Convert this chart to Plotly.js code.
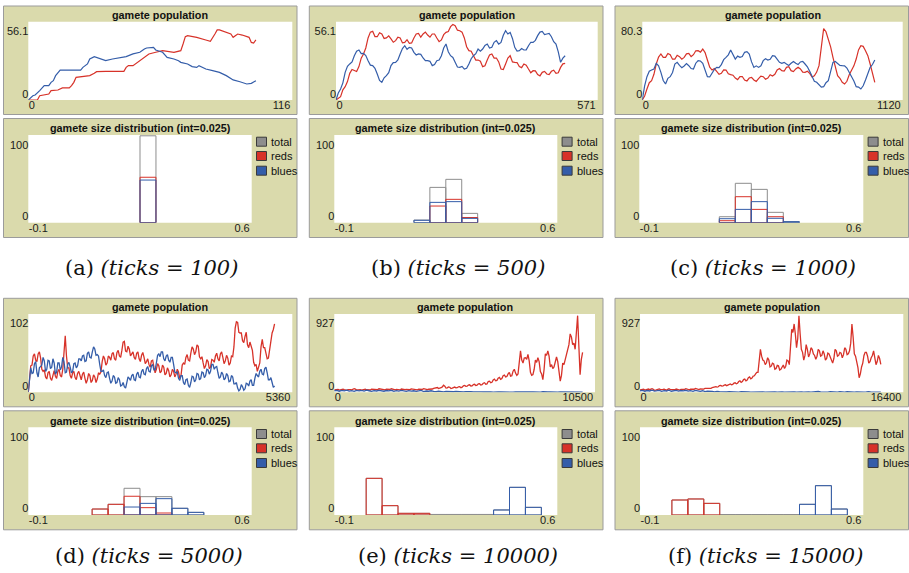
<!DOCTYPE html>
<html><head><meta charset="utf-8">
<script src="https://cdn.plot.ly/plotly-3.0.1.min.js"></script>
<style>html,body{margin:0;padding:0;background:#fff;}#chart{width:909px;height:573px;}</style>
</head><body><div id="chart"></div>
<script>
// ================= DATA =================
const panelLetters = ['a','b','c','d','e','f'];
const panelTicks = [100, 500, 1000, 5000, 10000, 15000];
const popTitle = 'gamete population';
const histTitle = 'gamete size distribution (int=0.025)';
const popXMax = [116, 571, 1120, 5360, 10500, 16400];
const popYMax = [56.1, 56.1, 80.3, 102, 927, 927];
const histXLabels = ['-0.1', '0.6'];
const histYLabels = ['0', '100'];
const histRange = [-0.1, 0.6];
const seriesNames = ['total', 'reds', 'blues'];

// (a) ticks = 100
const aRedTicks = [0,4,5,7,9,10,13,15,18,19,20,21,23,27,29,30,34,38,40,42,43,44,46,49,51,53,56,59,64,67,68,69,70,74,78,80,82,83,84,86,89,90,92,94,97,98,99,100];
const aRed = [0,0,3.4,4.0,4.7,7.4,7.9,9.5,9.5,11.3,13.9,17.9,18.4,19.2,21.0,22.3,22.6,22.6,23.1,22.6,25.7,27.1,27.1,31.0,33.6,36.3,37.6,38.9,37.6,38.9,44.1,49.9,50.7,49.4,47.3,46.2,52.0,55.2,55.2,54.1,52.0,49.4,52.0,51.2,49.4,45.4,44.9,47.3];
const aBlueTicks = [0,2,3,4,5,7,9,10,11,12,14,23,24,26,27,29,31,34,37,40,43,46,48,49,51,52,55,56,59,61,64,66,67,70,72,74,75,78,81,84,87,89,90,93,96,98,100];
const aBlue = [0,3.4,3.9,6.0,7.4,11.3,11.3,13.9,15.2,19.2,23.6,23.6,25.7,28.4,32.3,34.2,33.1,31.0,32.3,33.1,34.2,36.3,36.8,37.6,40.2,41.0,41.5,39.4,37.6,33.6,32.3,31.0,29.7,28.4,26.3,25.7,27.1,24.4,23.1,21.8,19.2,16.5,15.8,14.4,12.6,13.1,15.2];

// (b) ticks = 500
const bTicks = [0,5,10,15,20,25,30,35,40,45,50,55,60,65,70,75,80,85,90,95,
  100,105,110,115,120,125,130,135,140,145,150,155,160,165,170,175,180,185,190,195,
  200,205,210,215,220,225,230,235,240,245,250,255,260,265,270,275,280,285,290,295,
  300,305,310,315,320,325,330,335,340,345,350,355,360,365,370,375,380,385,390,395,
  400,405,410,415,420,425,430,435,440,445,450,455,460,465,470,475,480,485,490,495,500];
const bRed = [0,1.0,2.6,8.0,10.5,14.5,21.0,24.0,23.1,22.5,26.3,33.0,36.3,41.0,48.9,53.5,54.1,50.0,49.9,53.0,
  52.0,48.5,48.9,50.5,48.1,45.5,46.8,49.5,48.9,45.0,45.4,47.5,44.7,45.0,48.9,52.0,52.5,49.5,52.0,53.5,
  51.2,49.5,52.0,52.0,48.9,46.0,47.3,51.5,53.3,54.0,57.8,59.5,58.6,55.0,54.6,53.5,48.9,42.0,38.9,38.5,
  34.9,31.5,31.5,30.5,26.3,27.0,31.5,35.5,36.3,33.0,33.1,30.0,24.4,24.0,28.4,33.0,34.9,30.0,29.7,29.5,
  26.3,25.5,28.4,27.5,24.4,21.5,23.1,23.0,20.0,19.0,21.8,22.5,20.5,20.0,22.6,23.5,21.0,21.5,25.7,28.5,28.9];
const bBlue = [0,5.5,8.7,13.5,21.8,26.5,28.4,30.0,34.9,38.5,39.4,36.5,36.8,35.0,31.0,27.5,27.1,25.0,20.5,15.5,
  13.9,17.5,19.2,21.5,27.1,29.5,29.7,31.5,36.3,40.5,42.8,40.0,41.5,41.0,37.6,35.5,36.3,36.0,33.1,31.0,
  31.0,30.5,27.1,28.0,31.0,31.5,34.9,41.0,44.1,38.0,34.9,33.5,29.7,26.0,25.7,26.5,24.4,25.0,28.4,32.5,
  34.9,36.5,40.2,38.5,40.2,43.0,44.1,41.0,41.5,45.5,46.8,44.0,45.4,51.0,54.6,52.0,53.3,48.5,41.5,38.5,
  38.9,40.5,39.4,39.5,42.8,45.5,45.4,47.0,50.7,53.5,54.1,51.5,52.0,52.5,49.9,46.0,44.1,38.0,29.7,33.0,34.9];

// (c) ticks = 1000
const cTicks = [0,10,20,30,40,50,60,70,80,90,100,110,120,130,140,150,160,170,180,190,
  200,210,220,230,240,250,260,270,280,290,300,310,320,330,340,350,360,370,380,390,
  400,410,420,430,440,450,460,470,480,490,500,510,520,530,540,550,560,570,580,590,
  600,610,620,630,640,650,660,670,680,690,700,710,720,730,740,750,760,770,780,790,
  800,810,820,830,840,850,860,870,880,890,900,910,920,930,940,950,960,970,980,990,1000];
const cRed = [0,4.5,12.4,19.5,21.8,29.0,40.6,48.5,51.9,48.0,48.1,52.5,51.1,46.0,46.2,50.5,48.9,46.0,48.1,52.0,
  52.6,49.0,51.1,55.5,55.6,54.0,57.5,53.5,45.1,37.0,33.8,35.5,32.3,29.0,30.1,34.0,33.8,29.5,28.6,28.0,
  24.8,23.0,26.3,26.5,22.6,21.5,24.8,25.5,22.6,21.0,24.1,27.0,26.3,23.5,24.8,28.5,27.1,29.0,33.8,35.5,
  33.1,32.5,36.8,37.5,33.1,32.0,35.0,37.0,35.0,31.5,31.2,32.5,30.1,26.0,27.4,31.5,38.7,62.0,80.5,77.0,
  68.8,60.0,48.1,36.0,27.4,24.5,19.9,18.0,21.1,28.5,33.1,38.5,46.2,56.5,61.3,60.5,55.6,50.0,40.6,28.5,19.9];
const cBlue = [0,16.0,26.3,32.5,33.8,35.0,41.4,38.5,31.2,22.0,18.0,24.5,26.3,31.0,40.6,42.5,39.1,36.5,38.4,41.0,
  38.7,35.5,35.0,41.5,44.4,44.0,41.4,32.5,26.3,26.0,30.1,34.5,36.8,36.5,39.9,45.5,48.1,51.0,56.4,50.5,
  46.2,49.5,48.1,49.0,53.8,54.5,51.9,43.0,36.8,38.5,36.8,38.5,44.4,46.5,45.1,46.0,50.0,49.5,45.9,42.5,
  41.4,42.5,40.6,39.0,41.4,43.5,41.4,40.0,42.9,43.5,40.6,37.5,32.3,27.5,21.1,20.0,17.3,14.5,15.0,19.5,
  21.8,33.0,42.5,43.5,41.4,39.0,38.7,38.5,36.1,31.0,27.4,21.5,15.0,14.5,12.4,16.0,22.6,29.5,36.8,40.0,45.1];

// (d) ticks = 5000
const dTicks = [0,25,50,75,100,125,150,175,200,225,250,275,300,325,350,375,400,425,450,475,
  500,525,550,575,600,625,650,675,700,725,750,775,800,825,850,875,900,925,950,975,
  1000,1025,1050,1075,1100,1125,1150,1175,1200,1225,1250,1275,1300,1325,1350,1375,1400,1425,1450,1475,
  1500,1525,1550,1575,1600,1625,1650,1675,1700,1725,1750,1775,1800,1825,1850,1875,1900,1925,1950,1975,
  2000,2025,2050,2075,2100,2125,2150,2175,2200,2225,2250,2275,2300,2325,2350,2375,2400,2425,2450,2475,
  2500,2525,2550,2575,2600,2625,2650,2675,2700,2725,2750,2775,2800,2825,2850,2875,2900,2925,2950,2975,
  3000,3025,3050,3075,3100,3125,3150,3175,3200,3225,3250,3275,3300,3325,3350,3375,3400,3425,3450,3475,
  3500,3525,3550,3575,3600,3625,3650,3675,3700,3725,3750,3775,3800,3825,3850,3875,3900,3925,3950,3975,
  4000,4025,4050,4075,4100,4125,4150,4175,4200,4225,4250,4275,4300,4325,4350,4375,4400,4425,4450,4475,
  4500,4525,4550,4575,4600,4625,4650,4675,4700,4725,4750,4775,4800,4825,4850,4875,4900,4925,4950,4975,5000];
const dRed = [0,25,38,39,52,55,46,44,55,58,49,33,30,32,22,19,28,30,20,17,
  27,31,23,20,30,33,24,22,33,63,81,52,35,35,24,20,28,30,21,18,
  27,30,22,18,26,29,20,13,18,27,24,14,17,25,22,14,19,28,26,29,
  44,52,48,39,42,52,50,46,55,57,48,46,57,60,52,50,60,72,73,59,
  58,66,62,52,55,58,50,47,56,58,48,44,53,57,50,41,44,48,40,36,
  45,46,36,28,33,41,38,28,30,39,36,25,27,35,31,22,25,33,30,22,
  26,33,29,20,24,39,42,40,50,54,46,45,56,65,62,54,58,68,66,51,
  48,51,42,34,38,47,44,34,36,47,46,43,52,56,48,45,55,58,50,41,
  45,53,49,39,42,52,51,65,92,101,100,86,85,85,74,71,80,86,68,64,
  72,66,60,43,38,40,30,36,42,65,76,64,64,56,48,49,62,79,85,90,98];
const dBlue = [0,22,35,27,28,41,44,28,22,35,38,39,50,45,30,33,46,45,34,36,
  48,42,26,29,42,42,32,36,50,44,28,29,40,43,36,28,30,41,42,35,
  38,48,48,45,52,53,44,45,56,58,50,49,58,65,62,53,54,52,40,30,
  30,32,24,21,28,29,20,13,16,24,22,13,14,21,18,9,10,14,8,6,
  14,22,20,17,24,26,18,17,26,29,22,21,30,33,26,25,34,37,30,29,
  38,40,32,32,42,53,55,51,58,58,48,45,52,54,46,43,50,50,40,29,
  28,29,20,17,24,24,14,11,18,19,10,7,14,23,22,15,18,27,26,18,
  20,29,28,21,24,33,32,26,30,40,40,33,36,37,28,20,22,29,26,18,
  20,27,24,15,16,24,22,12,12,14,6,2,4,11,8,3,5,13,12,9,
  16,18,10,10,20,27,24,22,30,33,26,25,34,36,28,18,18,21,14,7,9];

// (e) ticks = 10000
const eRedTicks = [0,50,100,150,200,250,300,350,400,450,500,550,600,650,700,750,800,850,900,950,
  1000,1050,1100,1150,1200,1250,1300,1350,1400,1450,1500,1550,1600,1650,1700,1750,1800,1850,1900,1950,
  2000,2050,2100,2150,2200,2250,2300,2350,2400,2450,2500,2550,2600,2650,2700,2750,2800,2850,2900,2950,
  3000,3050,3100,3150,3200,3250,3300,3350,3400,3450,3500,3550,3600,3650,3700,3750,3800,3850,3900,3950,
  4000,4050,4100,4150,4200,4250,4300,4350,4400,4450,4500,4550,4600,4650,4700,4750,4800,4850,4900,4950,
  5000,5050,5100,5150,5200,5250,5300,5350,5400,5450,5500,5550,5600,5650,5700,5750,5800,5850,5900,5950,
  6000,6050,6100,6150,6200,6250,6300,6350,6400,6450,6500,6550,6600,6650,6700,6750,6800,6850,6900,6950,
  7000,7050,7100,7150,7200,7250,7300,7350,7400,7450,7500,7550,7600,7650,7700,7750,7800,7850,7900,7950,
  8000,8050,8100,8150,8200,8250,8300,8350,8400,8450,8500,8550,8600,8650,8700,8750,8800,8850,8900,8950,
  9000,9050,9100,9150,9200,9250,9300,9350,9400,9450,9500,9550,9600,9650,9700,9750,9800,9850,9900,9950,10000];
const eRed = [30,35,42,38,28,33,45,41,34,31,26,36,40,35,32,37,48,41,30,32,
  38,34,27,31,44,40,33,31,25,30,41,40,36,34,29,35,46,42,35,33,
  28,31,40,39,34,38,46,40,30,32,38,34,25,31,43,40,33,34,39,36,
  30,35,45,42,36,34,28,32,42,40,34,38,48,42,31,34,40,40,37,43,
  52,56,66,62,48,52,60,70,92,80,55,58,70,66,50,54,64,68,58,60,
  72,74,60,66,85,90,78,80,95,98,82,84,100,104,88,92,110,112,96,100,
  118,125,105,110,140,145,125,130,160,172,150,155,185,195,170,180,215,225,200,205,
  240,260,210,215,275,300,250,220,240,420,540,420,380,445,450,430,495,410,260,220,
  230,300,420,390,450,400,270,240,165,300,500,480,540,470,330,360,310,330,420,460,
  400,300,145,220,380,360,420,500,540,620,760,720,620,640,560,840,998,600,230,430,520];
const eBlueTicks = [0,100,200,300,400,500,600,700,800,900,1000,1100,1200,1300,1400,1500,1600,1700,1800,1900,2000,2100,2200,2300,2400,2500,2600,2700,2800,2900,3000,3100,3200,3300,3400,3500,3600,3700,3800,3900,4000,4100,4200,4300,4400,4500,4600,4700,4800,4900,5000,5100,5200,5300,5400,5500,5600,5700,5800,5900,6000,6100,6200,6300,6400,6500,6600,6700,6800,6900,7000,7100,7200,7300,7400,7500,7600,7700,7800,7900,8000,8100,8200,8300,8400,8500,8600,8700,8800,8900,9000,9100,9200,9300,9400,9500,9600,9700,9800,9900,10000];
const eBlue = [20,26,14,24,18,28,16,22,12,25, 18,24,15,27,20,13,22,17,26,19, 14,23,18,26,12,21,16,24,19,13, 22,15,20,12,18,24,10,17,14,20, 12,8,15,10,6,12,9,14,7,11, 6,10,5,9,4,8,6,3,7,5, 4,8,3,6,2,7,4,5,3,6, 3,5,2,6,4,8,3,5,2,4, 5,2,6,3,7,2,4,6,3,5, 2,4,3,6,2,5,3,4,2,3, 3];

// (f) ticks = 15000
const fRedTicks = [0,75,150,225,300,375,450,525,600,675,750,825,900,975,1050,1125,1200,1275,1350,1425,
  1500,1575,1650,1725,1800,1875,1950,2025,2100,2175,2250,2325,2400,2475,2550,2625,2700,2775,2850,2925,
  3000,3075,3150,3225,3300,3375,3450,3525,3600,3675,3750,3825,3900,3975,4050,4125,4200,4275,4350,4425,
  4500,4575,4650,4725,4800,4875,4950,5025,5100,5175,5250,5325,5400,5475,5550,5625,5700,5775,5850,5925,
  6000,6075,6150,6225,6300,6375,6450,6525,6600,6675,6750,6825,6900,6975,7050,7125,7200,7275,7350,7425,
  7500,7575,7650,7725,7800,7875,7950,8025,8100,8175,8250,8325,8400,8475,8550,8625,8700,8775,8850,8925,
  9000,9075,9150,9225,9300,9375,9450,9525,9600,9675,9750,9825,9900,9975,10050,10125,10200,10275,10350,10425,
  10500,10575,10650,10725,10800,10875,10950,11025,11100,11175,11250,11325,11400,11475,11550,11625,11700,11775,11850,11925,
  12000,12075,12150,12225,12300,12375,12450,12525,12600,12675,12750,12825,12900,12975,13050,13125,13200,13275,13350,13425,
  13500,13575,13650,13725,13800,13875,13950,14025,14100,14175,14250,14325,14400,14475,14550,14625,14700,14775,14850,14925,15000];
const fRed = [30,35,44,39,28,31,40,42,34,38,48,40,26,29,38,44,45,36,32,38,
  40,31,28,40,46,38,35,36,30,33,42,37,25,29,38,39,33,37,47,40,
  29,32,41,42,36,40,50,44,31,35,44,45,38,42,52,51,58,57,49,52,
  62,66,75,74,68,72,88,90,80,82,95,98,86,90,104,108,98,102,120,124,
  112,118,140,150,130,140,165,172,150,160,190,200,175,185,210,215,240,260,260,380,
  560,470,420,410,360,385,450,420,330,340,380,370,300,310,350,345,290,300,340,355,
  310,340,420,410,360,560,820,780,890,760,580,700,998,760,560,520,420,480,620,560,
  460,500,580,560,500,480,430,470,560,540,470,480,540,500,420,440,510,500,450,430,
  380,440,560,540,470,480,520,510,450,490,580,560,490,500,540,640,890,720,500,470,
  400,320,190,240,330,380,480,520,520,470,380,400,450,480,540,470,360,400,480,440,363];
const fBlueTicks = [0,150,300,450,600,750,900,1050,1200,1350,1500,1650,1800,1950,2100,2250,2400,2550,2700,2850,3000,3150,3300,3450,3600,3750,3900,4050,4200,4350,4500,4650,4800,4950,5100,5250,5400,5550,5700,5850,6000,6150,6300,6450,6600,6750,6900,7050,7200,7350,7500,7650,7800,7950,8100,8250,8400,8550,8700,8850,9000,9150,9300,9450,9600,9750,9900,10050,10200,10350,10500,10650,10800,10950,11100,11250,11400,11550,11700,11850,12000,12150,12300,12450,12600,12750,12900,13050,13200,13350,13500,13650,13800,13950,14100,14250,14400,14550,14700,14850,15000];
const fBlue = [18,25,14,23,17,27,15,21,26,13, 22,17,28,14,20,25,16,23,18,26, 15,21,13,24,18,12,20,9,14,8, 11,6,13,8,5,10,4,9,6,3, 7,3,8,4,2,6,3,5,2,4, 3,6,2,5,8,3,6,2,7,4, 2,5,9,3,6,2,8,4,3,6, 4,2,7,3,10,4,2,6,3,8, 3,6,2,9,4,2,7,3,5,2, 6,3,8,2,5,9,3,4,2,3, 2];

// histogram bins (centres, width 0.05) and counts
const histBins = [-0.075,-0.025,0.025,0.075,0.125,0.175,0.225,0.275,0.325,0.375,0.425,0.475,0.525,0.575];
const n = null;
const aTotal = [n,n,n,n,n,n,n,109,n,n,n,n,n,n];
const aReds  = [n,n,n,n,n,n,n,57,n,n,n,n,n,n];
const aBlues = [n,n,n,n,n,n,n,53.5,n,n,n,n,n,n];
const bTotal = [n,n,n,n,n,3.3,44.3,54.4,11.7,n,n,n,n,n];
const bReds  = [n,n,n,n,n,n,20.9,29.3,6.5,n,n,n,n,n];
const bBlues = [n,n,n,n,n,3.0,25.5,26.4,5.4,n,n,n,n,n];
const cTotal = [n,n,n,n,n,7.5,49.4,41.8,13.0,1.3,n,n,n,n];
const cReds  = [n,n,n,n,n,2.5,32.6,16.7,7.5,n,n,n,n,n];
const cBlues = [n,n,n,n,n,5.0,16.7,26.4,5.5,1.3,n,n,n,n];
const dTotal = [n,n,n,n,7.5,13.4,33.5,23.0,23.0,8.4,3.3,n,n,n];
const dReds  = [n,n,n,n,7.5,13.4,23.5,9.2,2.5,n,n,n,n,n];
const dBlues = [n,n,n,n,n,n,10.0,14.6,20.5,8.4,3.3,n,n,n];
const eTotal = [n,n,46.0,11.7,2.1,2.1,0.7,0.7,0.7,0.7,6.3,34.7,9.6,n];
const eReds  = [n,n,46.0,11.7,2.1,2.1,n,n,n,n,n,n,n,n];
const eBlues = [n,n,n,n,n,n,n,n,n,n,6.3,34.7,9.6,n];
const fTotal = [n,n,18.8,20.1,14.6,0.6,0.6,0.6,0.6,0.6,13.4,36.8,7.5,n];
const fReds  = [n,n,18.8,20.1,14.6,n,n,n,n,n,n,n,n,n];
const fBlues = [n,n,n,n,n,n,n,n,n,n,13.4,36.8,7.5,n];

// ================= STYLE / GEOMETRY =================
const W = 909, H = 573;
const RED = '#d73229', BLUE = '#345da9', GRAY = '#8d8d8d';
const seriesColors = [GRAY, RED, BLUE];
const BEIGE = '#dadaac', BORDER = '#9b9b9b';
const SANS = '"Liberation Sans", Arial, sans-serif';
const SERIF = '"DejaVu Serif", serif';

const popSeries = [
  [[aRedTicks, aRed], [aBlueTicks, aBlue]],
  [[bTicks, bRed], [bTicks, bBlue]],
  [[cTicks, cRed], [cTicks, cBlue]],
  [[dTicks, dRed], [dTicks, dBlue]],
  [[eRedTicks, eRed], [eBlueTicks, eBlue]],
  [[fRedTicks, fRed], [fBlueTicks, fBlue]]
];
const histSeries = [
  [aTotal, aReds, aBlues], [bTotal, bReds, bBlues], [cTotal, cReds, cBlues],
  [dTotal, dReds, dBlues], [eTotal, eReds, eBlues], [fTotal, fReds, fBlues]
];

const boxX = [[3.5, 297], [309.3, 603], [615, 908.5]];
const popX = [[28.3,292.3],[336,597.7],[642.3,902.7],[28.3,292.3],[334.3,595],[640,903.3]];
const histX = [[28.3,251.7],[334.3,557.3],[639.3,863.3],[28.3,251.7],[334.3,557.3],[640,863.3]];
const rowOff = [0,0,0,292.3,292.3,292.3];
const captionXY = [[151.7,267.5],[458,267.5],[762.5,267.5],[149,556],[458,556],[765,556]];
const lineW = [1.2, 1.2, 1.2, 1.3, 1.3, 1.3];

const fx = p => p / W;
const fy = p => 1 - p / H;
const ctx = document.createElement('canvas').getContext('2d');
ctx.font = '11px "Liberation Sans"';
const tw = s => ctx.measureText(s).width;

const traces = [];
const layout = {
  width: W, height: H, margin: {l:0, r:0, t:0, b:0},
  paper_bgcolor: '#ffffff', plot_bgcolor: 'rgba(0,0,0,0)',
  showlegend: false, barmode: 'overlay', hovermode: false,
  font: {family: SANS, size: 11, color: '#1a1a1a'},
  shapes: [], annotations: []
};

function axisBase() {
  return {showgrid:false, zeroline:false, showline:false, ticks:'', fixedrange:true,
          tickmode:'array', tickfont:{family:SANS, size:11, color:'#1a1a1a'}};
}
function addPlot(idx, xpx, ypx, xr, yr, xlab, ylab, yOffB, yOffT) {
  const xk = idx === 1 ? 'xaxis' : 'xaxis' + idx;
  const yk = idx === 1 ? 'yaxis' : 'yaxis' + idx;
  const xw = xpx[1] - xpx[0], yh = ypx[1] - ypx[0];
  const xs = xr[1] - xr[0], ys = yr[1] - yr[0];
  const xa = axisBase();
  Object.assign(xa, {domain:[fx(xpx[0]), fx(xpx[1])], range:xr, anchor: idx===1?'y':'y'+idx,
    tickvals:[xr[0] + (tw(xlab[0])/2 + 0.5)/xw*xs, xr[1] - (tw(xlab[1])/2 + 2)/xw*xs],
    ticktext: xlab, ticklabelstandoff: -3});
  const ya = axisBase();
  Object.assign(ya, {domain:[fy(ypx[1]), fy(ypx[0])], range:yr, anchor: idx===1?'x':'x'+idx,
    tickvals:[yr[0] + yOffB/yh*ys, yr[1] - yOffT/yh*ys], ticktext: ylab, ticklabelstandoff: -1});
  layout[xk] = xa; layout[yk] = ya;
  layout.shapes.push({type:'rect', xref:(idx===1?'x':'x'+idx)+' domain', yref:(idx===1?'y':'y'+idx)+' domain',
    x0:0, x1:1, y0:0, y1:1, fillcolor:'#ffffff', line:{width:0}, layer:'below'});
}

for (let i = 0; i < 6; i++) {
  const off = rowOff[i], col = i % 3;
  const pIdx = i + 1, hIdx = i + 7;
  [[6, 114.5], [118.5, 237.5]].forEach(b => {
    layout.shapes.push({type:'rect', xref:'paper', yref:'paper',
      x0:fx(boxX[col][0]), x1:fx(boxX[col][1]), y0:fy(b[1]+off), y1:fy(b[0]+off),
      fillcolor:BEIGE, line:{color:BORDER, width:1}, layer:'below'});
  });
  const popY = [21.7+off, 100+off], histY = [135+off, 222.7+off];
  addPlot(pIdx, popX[i], popY, [0, popXMax[i]], [0, popYMax[i]*1.1], ['0', String(popXMax[i])], ['0', String(popYMax[i])], 6, 9.5);
  addPlot(hIdx, histX[i], histY, histRange, [0, 110], histXLabels, histYLabels, 6.7, 10);

  layout.annotations.push({xref:'paper', yref:'paper', x:fx((popX[i][0]+popX[i][1])/2), y:fy(15+off),
    text:popTitle, showarrow:false, xanchor:'center', yanchor:'middle',
    font:{family:SANS, size:10.8, weight:'bold', color:'#111'}});
  layout.annotations.push({xref:'paper', yref:'paper', x:fx((histX[i][0]+histX[i][1])/2), y:fy(128.3+off),
    text:histTitle, showarrow:false, xanchor:'center', yanchor:'middle',
    font:{family:SANS, size:10.8, weight:'bold', color:'#111'}});

  const xs = pIdx===1?'x':'x'+pIdx, ys = pIdx===1?'y':'y'+pIdx;
  popSeries[i].forEach((s, k) => {
    traces.push({type:'scatter', mode:'lines', x:s[0], y:s[1], xaxis:xs, yaxis:ys,
      name: seriesNames[k+1], line:{color: k===0?RED:BLUE, width:lineW[i]}, hoverinfo:'skip'});
  });
  histSeries[i].forEach((arr, k) => {
    traces.push({type:'bar', x:histBins, y:arr, width:0.05, xaxis:'x'+hIdx, yaxis:'y'+hIdx,
      name: seriesNames[k], marker:{color:'rgba(0,0,0,0)', line:{color:seriesColors[k], width:1}}, hoverinfo:'skip'});
  });
  const lx = histX[i][1] + 4.8;
  [6.7, 21, 35.7].forEach((dy, k) => {
    const cy = histY[0] + dy;
    layout.shapes.push({type:'rect', xref:'paper', yref:'paper', x0:fx(lx), x1:fx(lx+10),
      y0:fy(cy+4.5), y1:fy(cy-4.5), fillcolor:seriesColors[k], line:{color:'#3a3a3a', width:1}});
    layout.annotations.push({xref:'paper', yref:'paper', x:fx(lx+12.5), y:fy(cy), text:seriesNames[k],
      showarrow:false, xanchor:'left', yanchor:'middle', font:{family:SANS, size:11, color:'#111'}});
  });
  layout.annotations.push({xref:'paper', yref:'paper', x:fx(captionXY[i][0]), y:fy(captionXY[i][1]),
    text:'(' + panelLetters[i] + ') <i>(ticks = ' + panelTicks[i] + ')</i>', showarrow:false,
    xanchor:'center', yanchor:'middle', font:{family:SERIF, size:21, color:'#111'}});
}

Plotly.newPlot('chart', traces, layout, {staticPlot:true, displayModeBar:false});
</script></body></html>
